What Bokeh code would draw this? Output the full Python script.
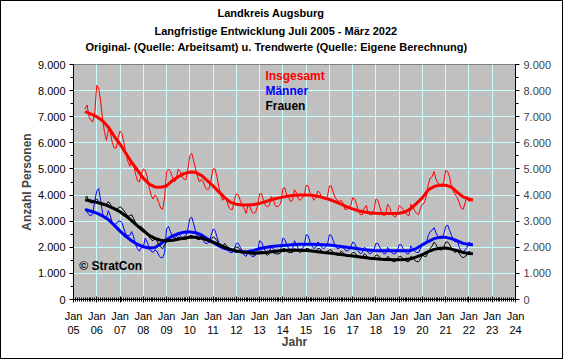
from bokeh.plotting import figure
from bokeh.models import Range1d, LinearAxis, FixedTicker, Label, Title
from bokeh.embed import file_html
from bokeh.resources import INLINE

# ---------------- data (monthly originals Jul 2005 - Mar 2022) ----------------
start_year = 2005
start_month = 7

insgesamt = [
    7300, 7450, 7000, 6850, 6800, 7200,
    8200, 8100, 7600, 6900, 6400, 6100, 6500, 6400, 6000, 5800, 5800, 6200,
    6450, 6350, 6000, 5600, 5300, 5100, 5300, 5200, 4800, 4550, 4500, 4800,
    5000, 4950, 4700, 4300, 4000, 3850, 4000, 3900, 3700, 3500, 3450, 3900,
    4900, 5000, 4900, 4700, 4500, 4600, 5000, 4900, 4700, 4600, 4600, 5000,
    5500, 5600, 5300, 5000, 4700, 4500, 4600, 4500, 4300, 4200, 4250, 4600,
    5000, 5000, 4700, 4300, 4000, 3800, 3900, 3800, 3550, 3450, 3450, 3800,
    4050, 4000, 3800, 3600, 3500, 3300, 3600, 3550, 3350, 3300, 3350, 3600,
    4050, 4050, 3800, 3600, 3550, 3600, 3950, 3850, 3600, 3550, 3600, 3700,
    4250, 4280, 4000, 3900, 3750, 3800, 4200, 4100, 3850, 3800, 3900, 3950,
    4380, 4350, 4100, 3950, 3800, 3900, 4150, 4100, 3900, 3850, 3850, 3950,
    4350, 4350, 4100, 3900, 3800, 3750, 3800, 3700, 3450, 3450, 3550, 3600,
    3900, 3850, 3650, 3400, 3250, 3250, 3500, 3600, 3300, 3250, 3250, 3400,
    3850, 3800, 3550, 3300, 3200, 3250, 3650, 3550, 3300, 3200, 3150, 3300,
    3600, 3550, 3450, 3350, 3250, 3200, 3650, 3550, 3400, 3300, 3250, 3500,
    3650, 3700, 3950, 4400, 4650, 4700, 4900, 4600, 4450, 4400, 4350, 4500,
    4950, 4900, 4700, 4300, 4150, 4000, 3900, 3700, 3500, 3450, 3700, 3950,
    3750, 3850, 3800,
]

maenner = [
    3450, 3350, 3250, 3200, 3300, 3800,
    4150, 4250, 3800, 3300, 3100, 3150, 3400, 3200, 2950, 2850, 2900, 3000,
    3000, 2950, 2700, 2500, 2450, 2450, 2600, 2400, 2100, 1950, 1850, 2000,
    2000, 2350, 2200, 2000, 1850, 1800, 1900, 1850, 1700, 1600, 1600, 1800,
    2700, 2800, 2600, 2400, 2350, 2400, 2550, 2450, 2350, 2400, 2450, 2700,
    3100, 3150, 2900, 2600, 2400, 2300, 2350, 2250, 2150, 2150, 2200, 2450,
    2700, 2650, 2400, 2150, 2050, 2000, 2050, 1950, 1850, 1800, 1800, 1950,
    2150, 2150, 2000, 1850, 1700, 1650, 1800, 1750, 1650, 1650, 1700, 1850,
    2250, 2200, 2000, 1850, 1800, 1850, 2000, 1950, 1850, 1800, 1850, 1950,
    2350, 2300, 2100, 1950, 1900, 1950, 2250, 2100, 1950, 1900, 1950, 2050,
    2480, 2450, 2200, 2050, 1950, 2000, 2200, 2150, 2000, 1950, 2000, 2100,
    2480, 2450, 2250, 2050, 1950, 1950, 2050, 2000, 1900, 1850, 1900, 2000,
    2200, 2150, 2000, 1850, 1750, 1800, 2000, 1950, 1800, 1750, 1800, 1900,
    2150, 2150, 2000, 1850, 1750, 1750, 2000, 1900, 1800, 1750, 1750, 1850,
    2100, 2100, 1950, 1850, 1750, 1750, 2050, 1950, 1850, 1800, 1800, 1950,
    2100, 2100, 2150, 2450, 2600, 2650, 2750, 2550, 2400, 2350, 2350, 2500,
    2800, 2850, 2650, 2450, 2300, 2200, 2250, 2000, 1850, 1800, 1900, 2000,
    2200, 2150, 2100,
]

frauen = [
    3900, 3950, 3750, 3700, 3700, 3800,
    3850, 3750, 3700, 3650, 3600, 3650, 3750, 3650, 3500, 3450, 3450, 3500,
    3550, 3500, 3400, 3300, 3200, 3200, 3250, 3100, 2950, 2850, 2800, 2800,
    2700, 2650, 2550, 2400, 2300, 2250, 2350, 2250, 2100, 2000, 1950, 2100,
    2200, 2250, 2250, 2250, 2250, 2300, 2400, 2350, 2300, 2300, 2300, 2350,
    2450, 2450, 2400, 2350, 2300, 2300, 2450, 2400, 2300, 2250, 2250, 2300,
    2400, 2350, 2250, 2150, 2100, 2050, 2150, 2050, 1950, 1900, 1900, 1950,
    2000, 2000, 1900, 1850, 1800, 1750, 1850, 1800, 1750, 1700, 1750, 1800,
    1850, 1850, 1800, 1750, 1700, 1750, 1850, 1800, 1750, 1750, 1750, 1800,
    1950, 1950, 1850, 1800, 1800, 1800, 1950, 1900, 1850, 1800, 1850, 1850,
    1950, 1950, 1900, 1850, 1850, 1850, 1950, 1950, 1850, 1800, 1800, 1850,
    1900, 1900, 1800, 1750, 1700, 1700, 1850, 1800, 1700, 1650, 1650, 1700,
    1800, 1800, 1700, 1650, 1600, 1600, 1750, 1700, 1600, 1550, 1550, 1600,
    1700, 1700, 1600, 1550, 1500, 1500, 1650, 1600, 1500, 1450, 1450, 1550,
    1650, 1650, 1550, 1500, 1450, 1450, 1650, 1600, 1500, 1450, 1450, 1550,
    1700, 1650, 1650, 1850, 1950, 2050, 2200, 2100, 1950, 1900, 1900, 2000,
    2200, 2200, 2100, 1950, 1850, 1800, 1900, 1750, 1650, 1600, 1650, 1700,
    1850, 1800, 1750,
]

# ---------------- trend values (quarterly, from Jul 2005) ----------------
trend_x = [2005.5 + 0.25 * i for i in range(67)] + [2022.17]

trend_insgesamt = [
    7200, 7100, 7000, 6850, 6600, 6250, 5950, 5600, 5250, 4950,
    4650, 4420, 4310, 4300, 4350, 4550, 4700, 4820, 4880, 4870,
    4750, 4550, 4350, 4120, 3900, 3720, 3650, 3620, 3620, 3640,
    3680, 3750, 3820, 3880, 3920, 3960, 3990, 4000, 4000, 3990,
    3950, 3900, 3830, 3750, 3650, 3550, 3470, 3400, 3350, 3320,
    3300, 3290, 3290, 3290, 3300, 3350, 3480, 3680, 3900, 4200,
    4330, 4380, 4380, 4300, 4100, 3930, 3850, 3800,
]

trend_maenner = [
    3450, 3380, 3310, 3200, 3060, 2850, 2620, 2420, 2250, 2110,
    2020, 1970, 1990, 2130, 2300, 2430, 2520, 2580, 2590, 2560,
    2470, 2330, 2180, 2050, 1950, 1900, 1850, 1830, 1840, 1880,
    1950, 1990, 2030, 2050, 2070, 2090, 2110, 2120, 2120, 2120,
    2110, 2100, 2090, 2060, 2030, 2000, 1970, 1940, 1910, 1890,
    1870, 1870, 1870, 1870, 1870, 1870, 1880, 1960, 2100, 2220,
    2330, 2380, 2380, 2330, 2240, 2150, 2110, 2100,
]

trend_frauen = [
    3820, 3770, 3720, 3660, 3580, 3480, 3360, 3200, 3020, 2820,
    2630, 2460, 2340, 2270, 2250, 2270, 2310, 2350, 2380, 2380,
    2350, 2280, 2200, 2100, 2000, 1920, 1860, 1820, 1790, 1780,
    1780, 1800, 1830, 1860, 1880, 1890, 1890, 1890, 1880, 1860,
    1830, 1800, 1780, 1750, 1720, 1690, 1670, 1640, 1610, 1580,
    1560, 1540, 1530, 1520, 1520, 1530, 1560, 1630, 1720, 1830,
    1920, 1960, 1970, 1930, 1870, 1800, 1760, 1750,
]

years = list(range(2005, 2025))
year_labels = ["Jan\n%02d" % (y % 100) for y in years]
y_ticks = list(range(0, 10000, 1000))
y_labels = ["0"] + ["%d.000" % (v // 1000) for v in y_ticks[1:]]

title_lines = [
    "Landkreis Augsburg",
    "Langfristige Entwicklung Juli 2005 - März 2022",
    "Original- (Quelle: Arbeitsamt) u. Trendwerte (Quelle: Eigene Berechnung)",
]
series_names = ["Insgesamt", "Männer", "Frauen"]
colors = ["#FF0000", "#0000FF", "#000000"]

n = len(insgesamt)
month_x = [start_year + (start_month - 1 + i) / 12.0 for i in range(n)]

FONT = "Liberation Sans"

p = figure(width=563, height=359, output_backend="svg", toolbar_location=None,
           x_range=Range1d(2005, 2024), y_range=Range1d(0, 9000),
           min_border_left=72, min_border_right=49, min_border_top=63,
           min_border_bottom=61)
p.background_fill_color = "#C0C0C0"
p.border_fill_color = "white"
p.outline_line_color = "#808080"
p.styles = {"border": "1px solid black", "box-sizing": "border-box"}

p.xaxis.ticker = FixedTicker(ticks=years, minor_ticks=[2005 + i / 12.0 for i in range(19 * 12 + 1)])
p.xaxis.major_label_overrides = {y: l for y, l in zip(years, year_labels)}
p.yaxis.ticker = FixedTicker(ticks=y_ticks, minor_ticks=list(range(0, 9500, 500)))
p.yaxis.major_label_overrides = {v: l for v, l in zip(y_ticks, y_labels)}

for ax in [p.xaxis[0], p.yaxis[0]]:
    ax.major_label_text_font = FONT
    ax.major_label_text_font_size = "11px"
    ax.major_label_text_color = "black"
    ax.axis_line_color = "black"
    ax.major_tick_line_color = "black"
    ax.minor_tick_line_color = "black"
    ax.axis_label_text_font = FONT
    ax.axis_label_text_font_size = "12px"
    ax.axis_label_text_font_style = "bold"

p.xaxis.major_tick_in = 3
p.xaxis.major_tick_out = 3
p.xaxis.minor_tick_in = 2
p.xaxis.minor_tick_out = 2
p.xaxis.major_label_standoff = 7
p.xaxis.axis_label = "Jahr"
p.xaxis.axis_label_standoff = -4

p.yaxis.major_tick_in = 0
p.yaxis.major_tick_out = 4
p.yaxis.minor_tick_in = 0
p.yaxis.minor_tick_out = 3
p.yaxis.major_label_standoff = 4
p.yaxis.axis_label = "Anzahl Personen"
p.yaxis.axis_label_standoff = 1

right = LinearAxis(ticker=FixedTicker(ticks=y_ticks, minor_ticks=list(range(0, 9500, 500))))
right.major_label_overrides = {v: l for v, l in zip(y_ticks, y_labels)}
right.major_label_text_font = FONT
right.major_label_text_font_size = "11px"
right.major_tick_in = 0
right.major_tick_out = 4
right.minor_tick_in = 0
right.minor_tick_out = 3
right.major_label_standoff = 4
p.add_layout(right, "right")

p.xgrid.ticker = FixedTicker(ticks=years)
p.ygrid.ticker = FixedTicker(ticks=y_ticks)
p.grid.grid_line_color = "#C8FFFF"
p.grid.grid_line_width = 1
p.grid.grid_line_alpha = 1.0

originals = [insgesamt, maenner, frauen]
trends = [trend_insgesamt, trend_maenner, trend_frauen]
for vals, tr, c in zip(originals, trends, colors):
    p.line(month_x, vals, line_color=c, line_width=1)
    p.line(trend_x, tr, line_color=c, line_width=3)

# spacer between frame and the titles
p.add_layout(Title(text=" ", standoff=0, text_font=FONT, text_font_size="8px"), "above")

# titles (added nearest-first), left-aligned with per-line offsets to centre them
title_offsets = [144, 81, 12]
title_standoffs = [6, 2, 2]
for t, off, so in reversed(list(zip(title_lines, title_offsets, title_standoffs))):
    p.add_layout(Title(text=t, align="left", offset=off, standoff=so,
                       text_font=FONT, text_font_size="11px", text_font_style="bold",
                       text_color="black"), "above")

leg_y = [8557, 7982, 7406]
for name, c, ly in zip(series_names, colors, leg_y):
    p.add_layout(Label(x=2013.25, y=ly, text=name, text_align="left", text_baseline="middle",
                       text_font=FONT, text_font_size="12px", text_font_style="bold",
                       text_color=c))

p.add_layout(Label(x=2005.25, y=1266, text="© StratCon", text_align="left", text_baseline="middle",
                   text_font=FONT, text_font_size="12px", text_font_style="bold",
                   text_color="black"))

open("out.html", "w").write(file_html(p, INLINE))
